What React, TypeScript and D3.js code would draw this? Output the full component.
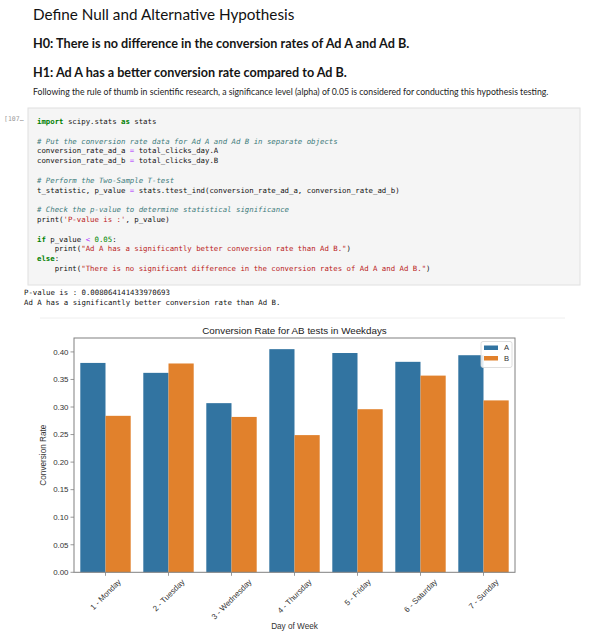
import React from "react";
import * as d3 from "d3";

const days = ["1 - Monday", "2 - Tuesday", "3 - Wednesday", "4 - Thursday", "5 - Friday", "6 - Saturday", "7 - Sunday"];
const groups = ["A", "B"];
const rateA = [0.380, 0.362, 0.307, 0.405, 0.398, 0.382, 0.394];
const rateB = [0.284, 0.379, 0.282, 0.249, 0.296, 0.357, 0.312];
const yTicks = [0, 0.05, 0.1, 0.15, 0.2, 0.25, 0.3, 0.35, 0.4];
const colors = ["#3274a1", "#e1812c"];

const chartTitle = "Conversion Rate for AB tests in Weekdays";
const xLabel = "Day of Week";
const yLabel = "Conversion Rate";

const headTitle = "Define Null and Alternative Hypothesis";
const h0 = "H0: There is no difference in the conversion rates of Ad A and Ad B.";
const h1 = "H1: Ad A has a better conversion rate compared to Ad B.";
const para = "Following the rule of thumb in scientific research, a significance level (alpha) of 0.05 is considered for conducting this hypothesis testing.";
const outputLines = ["P-value is : 0.008064141433970693", "Ad A has a significantly better conversion rate than Ad B."];

type Tok = [string, string?];
const K = "kw", C = "cm", S = "st", O = "op", N = "nm";
const codeLines: Tok[][] = [
  [["import", K], [" scipy.stats "], ["as", K], [" stats"]],
  [],
  [["# Put the conversion rate data for Ad A and Ad B in separate objects", C]],
  [["conversion_rate_ad_a "], ["=", O], [" total_clicks_day.A"]],
  [["conversion_rate_ad_b "], ["=", O], [" total_clicks_day.B"]],
  [],
  [["# Perform the Two-Sample T-test", C]],
  [["t_statistic, p_value "], ["=", O], [" stats.ttest_ind(conversion_rate_ad_a, conversion_rate_ad_b)"]],
  [],
  [["# Check the p-value to determine statistical significance", C]],
  [["print("], ["'P-value is :'", S], [", p_value)"]],
  [],
  [["if", K], [" p_value "], ["<", O], [" "], ["0.05", N], [":"]],
  [["    print("], ['"Ad A has a significantly better conversion rate than Ad B."', S], [")"]],
  [["else", K], [":"]],
  [["    print("], ['"There is no significant difference in the conversion rates of Ad A and Ad B."', S], [")"]],
];

const tokStyle: Record<string, any> = {
  kw: { fill: "#008000", fontWeight: "bold" },
  cm: { fill: "#3d7b7b", fontStyle: "italic" },
  st: { fill: "#ba2121" },
  op: { fill: "#aa22ff" },
  nm: { fill: "#008800" },
};

let ctx: CanvasRenderingContext2D | null = null;
function measure(text: string, font: string) {
  if (!ctx) ctx = document.createElement("canvas").getContext("2d");
  if (!ctx) return text.length * 4;
  ctx.font = font;
  return ctx.measureText(text).width;
}
function fitSize(text: string, weight: number, family: string, target: number) {
  const w = measure(text, `${weight} 100px ${family}`);
  return w > 0 ? (100 * target) / w : 14;
}

const W = 600, H = 634;
const axL = 74, axR = 515, axT = 338, axB = 572.3;
const chartFont = "Liberation Sans, Arial, sans-serif";
const mono = "DejaVu Sans Mono, monospace";
const docFam = "Lato";
const docFont = "Lato, Noto Sans, sans-serif";

export default function App() {
  const yMax = (d3.max([...rateA, ...rateB]) as number) * 1.05;
  const y = d3.scaleLinear().domain([0, yMax]).range([axB, axT]);
  const x = d3.scaleBand<string>().domain(days).range([axL, axR]).paddingInner(0.2).paddingOuter(0.1);
  const xh = d3.scaleBand<string>().domain(groups).range([0, x.bandwidth()]);
  const series = [rateA, rateB];
  const tickFs = 7.9;
  const codeFs = 7.35;
  const lineStep = 9.8;

  const fsTitle = fitSize(headTitle, 400, docFam, 262);
  const fsH0 = fitSize(h0, 700, docFam, 379);
  const fsH1 = fitSize(h1, 700, docFam, 316);
  const fsPara = fitSize(para, 400, docFam, 517);

  return (
    <svg width={W} height={H} style={{ position: "absolute", left: 0, top: 0, display: "block", background: "#fff" }}>
      {/* Markdown */}
      <text x={33} y={20} fontFamily={docFont} fontSize={fsTitle} fontWeight={400} fill="#111">{headTitle}</text>
      <text x={33} y={48} fontFamily={docFont} fontSize={fsH0} fontWeight={700} fill="#151515">{h0}</text>
      <text x={33} y={77} fontFamily={docFont} fontSize={fsH1} fontWeight={700} fill="#151515">{h1}</text>
      <text x={33} y={95} fontFamily={docFont} fontSize={fsPara} fill="#222">{para}</text>

      {/* Code cell */}
      <text x={4} y={121} fontFamily={mono} fontSize={6.5} fill="#999">[107…</text>
      <rect x={28} y={108} width={552} height={177} fill="#f5f5f5" stroke="#e0e0e0" strokeWidth={1} />
      {codeLines.map((toks, i) => (
        <text key={i} x={37} y={124 + i * lineStep} fontFamily={mono} fontSize={codeFs} fill="#111" xmlSpace="preserve" style={{ whiteSpace: "pre" }}>
          {toks.map((t, j) => (
            <tspan key={j} {...(t[1] ? tokStyle[t[1]] : {})}>{t[0]}</tspan>
          ))}
        </text>
      ))}
      {outputLines.map((l, i) => (
        <text key={i} x={24} y={295 + i * 10} fontFamily={mono} fontSize={codeFs} fill="#111">{l}</text>
      ))}
      <line x1={40} x2={565} y1={318} y2={318} stroke="#eeeeee" strokeWidth={1} />

      {/* Chart */}
      <text x={(axL + axR) / 2} y={333.5} textAnchor="middle" fontFamily={chartFont} fontSize={9.8} fill="#222">{chartTitle}</text>
      {series.map((vals, si) => (
        <g key={si}>
          {days.map((d, i) => (
            <rect key={d} x={(x(d) as number) + (xh(groups[si]) as number)} y={y(vals[i])} width={xh.bandwidth()} height={axB - y(vals[i])} fill={colors[si]} />
          ))}
        </g>
      ))}
      <rect x={axL} y={axT} width={axR - axL} height={axB - axT} fill="none" stroke="#808080" strokeWidth={1} />
      {yTicks.map((t) => (
        <g key={t}>
          <line x1={axL - 3.5} x2={axL} y1={y(t)} y2={y(t)} stroke="#808080" strokeWidth={0.8} />
          <text x={axL - 5.5} y={y(t)} dy="0.35em" textAnchor="end" fontFamily={chartFont} fontSize={tickFs} fill="#333">{d3.format(".2f")(t)}</text>
        </g>
      ))}
      {days.map((d) => {
        const cx = (x(d) as number) + x.bandwidth() / 2;
        const w = measure(d, `${tickFs}px Liberation Sans`);
        const h = tickFs * 1.15;
        const bb = (w + h) * Math.SQRT1_2;
        return (
          <g key={d}>
            <line x1={cx} x2={cx} y1={axB} y2={axB + 3.5} stroke="#808080" strokeWidth={0.8} />
            <text transform={`translate(${cx},${axB + 5 + bb / 2}) rotate(-45)`} textAnchor="middle" dy="0.35em" fontFamily={chartFont} fontSize={tickFs} fill="#333">{d}</text>
          </g>
        );
      })}
      <text x={(axL + axR) / 2} y={629} textAnchor="middle" fontFamily={chartFont} fontSize={8.2} fill="#333">{xLabel}</text>
      <text transform={`translate(46,${(axT + axB) / 2}) rotate(-90)`} textAnchor="middle" fontFamily={chartFont} fontSize={8.2} fill="#333">{yLabel}</text>

      {/* Legend */}
      <rect x={481} y={341.5} width={31} height={26} rx={2} fill="#fff" fillOpacity={0.85} stroke="#d6d6d6" strokeWidth={0.8} />
      {groups.map((g, i) => (
        <g key={g}>
          <rect x={484} y={345.5 + i * 10.5} width={14} height={4.5} fill={colors[i]} />
          <text x={504} y={347.8 + i * 10.5} dy="0.35em" fontFamily={chartFont} fontSize={7.6} fill="#333">{g}</text>
        </g>
      ))}
    </svg>
  );
}
